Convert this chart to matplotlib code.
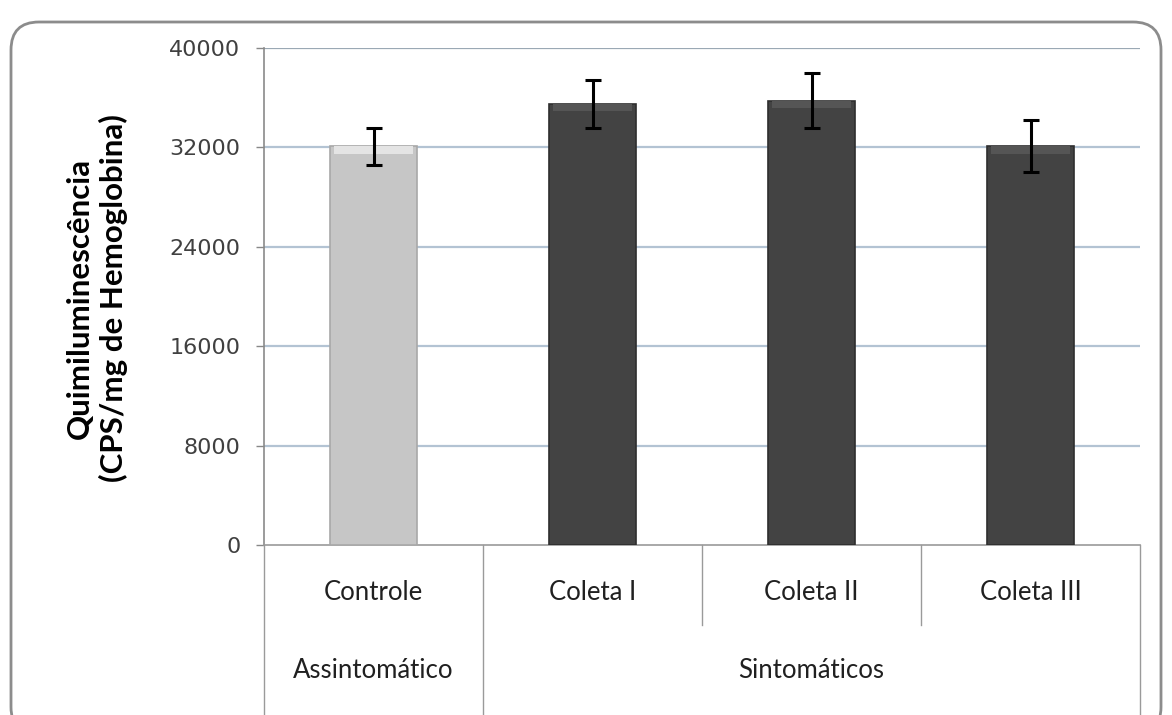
import matplotlib
matplotlib.use("Agg")
import matplotlib.pyplot as plt
from matplotlib.patches import FancyBboxPatch
from matplotlib.transforms import IdentityTransform
import numpy as np

categories = ["Controle", "Coleta I", "Coleta II", "Coleta III"]
groups = ["Assintomático", "Sintomáticos"]
group_sizes = [1, 3]
values = [32100, 35500, 35750, 32100]
errors = [1500, 1900, 2200, 2100]
bar_colors = ["#c6c6c6", "#434343", "#434343", "#434343"]
edge_colors = ["#a8a8a8", "#2e2e2e", "#2e2e2e", "#2e2e2e"]
yticks = [0, 8000, 16000, 24000, 32000, 40000]
ylabel = "Quimiluminescência\n(CPS/mg de Hemoglobina)"

W, H = 1172, 715
fig = plt.figure(figsize=(W / 100, H / 100), dpi=100)
ax = fig.add_axes([264 / W, 1 - 545 / H, (1140 - 264) / W, (545 - 48) / H])

x = np.arange(len(categories))
bw = 0.40
ax.bar(x, values, width=bw, color=bar_colors, edgecolor=edge_colors, linewidth=1.2, zorder=3)
# top bevel highlight
for xi, v, c in zip(x, values, bar_colors):
    hl = "#e4e4e4" if c == "#c6c6c6" else "#555555"
    ax.bar(xi, 600, bottom=v - 600, width=bw * 0.9, color=hl, linewidth=0, zorder=4)
ax.errorbar(x, values, yerr=errors, fmt="none", ecolor="black", elinewidth=2.2,
            capsize=5.5, capthick=2.2, zorder=5)

ax.set_xlim(-0.5, len(categories) - 0.5)
ax.set_ylim(0, 40000)
ax.set_yticks(yticks)
ax.set_yticklabels([str(t) for t in yticks], fontsize=16, color="#404040",
                   family="DejaVu Sans")
ax.tick_params(axis="y", length=6, width=1, color="#888888", pad=11)
ax.set_xticks([])
for yv in yticks[1:]:
    ax.axhline(yv, color="#b3c3d3" if yv != 40000 else "#9aa8b4", lw=1.6, zorder=1)
for s in ["top", "right"]:
    ax.spines[s].set_visible(False)
ax.spines["left"].set_color("#8a8a8a")
ax.spines["bottom"].set_color("#9a9a9a")
ax.spines["left"].set_linewidth(1.2)
ax.spines["bottom"].set_linewidth(1.2)

ax.set_ylabel(ylabel, fontsize=22.5, fontweight="bold", family="Lato",
              linespacing=1.2)
ax.yaxis.set_label_coords(-0.155, 0.497)

cat_font = "Lato"
# category axis table
tr = ax.get_xaxis_transform()
axh = 497.0
y_mid = -80 / axh
y_bot = -175 / axh
bounds = [-0.5]
acc = -0.5
for g in group_sizes:
    acc += g
    bounds.append(acc)
all_b = np.arange(-0.5, len(categories), 1.0)
for b in all_b:
    yend = y_bot if b in bounds else y_mid
    ax.plot([b, b], [0, yend], transform=tr, color="#9a9a9a", lw=1, clip_on=False)
for xi, c in zip(x, categories):
    ax.text(xi, -48 / axh, c, transform=tr, ha="center", va="center",
            fontsize=18.5, family=cat_font, color="#202020")
for i, g in enumerate(groups):
    cx = (bounds[i] + bounds[i + 1]) / 2
    ax.text(cx, -126 / axh, g, transform=tr, ha="center", va="center",
            fontsize=18.5, family=cat_font, color="#202020")

# outer rounded frame (pixel coordinates)
frame = FancyBboxPatch((11, -20), 1150, 713, boxstyle="round,pad=0,rounding_size=28",
                       transform=IdentityTransform(), fill=False, edgecolor="#8c8c8c",
                       linewidth=2, clip_on=False)
fig.add_artist(frame)

fig.savefig("out.png", dpi=100, facecolor="white")
